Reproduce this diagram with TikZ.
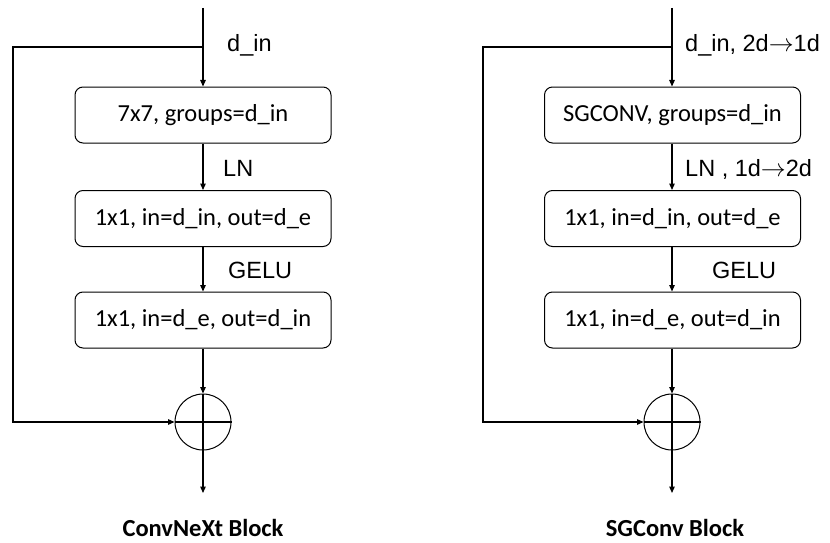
\documentclass[tikz,border=0pt]{standalone}
\usepackage{fontspec}
\setmainfont{Carlito}
\newfontfamily\arialf{Liberation Sans}
\usetikzlibrary{arrows.meta}
\newcommand{\myarr}{\ensuremath{{\rightarrow}}}
\tikzset{
  blk/.style={draw, line width=1pt, rounded corners=8pt, minimum width=256pt, minimum height=56pt, inner sep=0pt, font=\fontsize{24.5}{29}\selectfont},
  sumnode/.style={draw, circle, line width=1pt, minimum size=56pt, inner sep=0pt},
  wire/.style={line width=1.3pt},
  arr/.style={line width=1.3pt, -{Triangle[length=6.5pt,width=5.5pt]}},
  lbl/.style={anchor=base west, inner sep=0pt, font=\arialf\fontsize{23.5}{28}\selectfont},
  ttl/.style={anchor=base, inner sep=0pt, font=\bfseries\fontsize{24.5}{29}\selectfont}
}
\begin{document}
\begin{tikzpicture}[x=1pt,y=-1pt]
\useasboundingbox (0,0) rectangle (830,543);
% ---------- left block ----------
\coordinate (Lin) at (203,8);
\coordinate (Lbr) at (203,47);
\coordinate (Lsk) at (13,47);
\node[blk] (L1) at (203,115) {7x7, groups=d\_in};
\node[blk] (L2) at (203,218.5) {1x1, in=d\_in, out=d\_e};
\node[blk] (L3) at (203,320) {1x1, in=d\_e, out=d\_in};
\node[sumnode] (Ladd) at (203,422) {};
\coordinate (Lout) at (203,493);
\draw[arr] (Lin) -- (L1.north);
\draw[arr] (L1.south) -- (L2.north);
\draw[arr] (L2.south) -- (L3.north);
\draw[arr] (L3.south) -- (Ladd.north);
\draw[arr] (Ladd.north) -- (Lout);
\draw[arr] (Lbr) -- (Lsk) |- (Ladd.west);
\draw[wire] (Ladd.west) -- (Ladd.east);
\node[lbl] (Llab1) at (227,52) {d\_in};
\node[lbl] (Llab2) at (223,176) {LN};
\node[lbl] (Llab3) at (228,278) {GELU};
\node[ttl] (Lttl) at (203,536.5) {ConvNeXt Block};
% ---------- right block ----------
\coordinate (Rin) at (672,8);
\coordinate (Rbr) at (672,47);
\coordinate (Rsk) at (483,47);
\node[blk] (R1) at (672.5,115) {SGCONV, groups=d\_in};
\node[blk] (R2) at (672.5,218.5) {1x1, in=d\_in, out=d\_e};
\node[blk] (R3) at (672.5,320) {1x1, in=d\_e, out=d\_in};
\node[sumnode] (Radd) at (672,422) {};
\coordinate (Rout) at (672,493);
\draw[arr] (Rin) -- (Rin|-R1.north);
\draw[arr] (Rin|-R1.south) -- (Rin|-R2.north);
\draw[arr] (Rin|-R2.south) -- (Rin|-R3.north);
\draw[arr] (Rin|-R3.south) -- (Radd.north);
\draw[arr] (Radd.north) -- (Rout);
\draw[arr] (Rbr) -- (Rsk) |- (Radd.west);
\draw[wire] (Radd.west) -- (Radd.east);
\node[lbl] (Rlab1) at (685,52) {d\_in, 2d\myarr 1d};
\node[lbl] (Rlab2) at (685,176) {LN , 1d\myarr 2d};
\node[lbl] (Rlab3) at (712,278) {GELU};
\node[ttl] (Rttl) at (675,536.5) {SGConv Block};
\end{tikzpicture}
\end{document}
